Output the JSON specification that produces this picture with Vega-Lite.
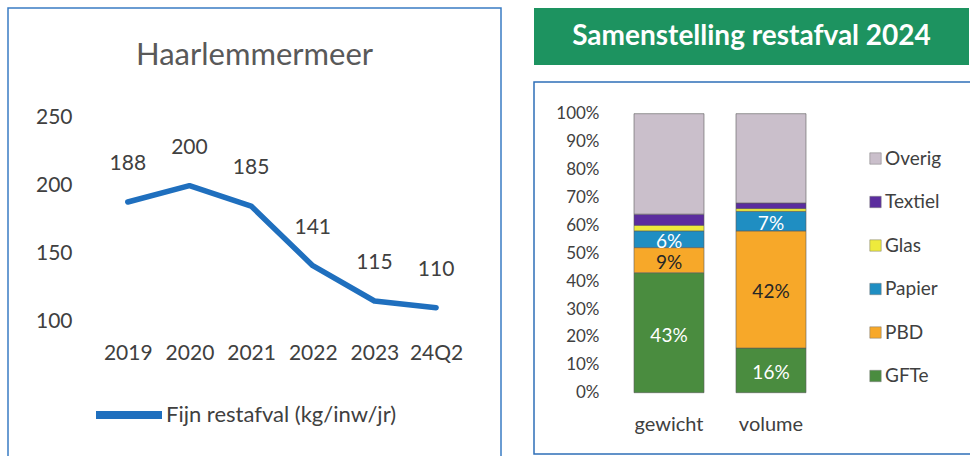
{
  "$schema": "https://vega.github.io/schema/vega-lite/v6.json",
  "padding": {"left": 7, "top": 7, "right": 0, "bottom": 0},
  "bounds": "flush",
  "spacing": 33,
  "resolve": {"scale": {"color": "independent"}, "legend": {"color": "independent"}},
  "config": {
    "font": "Lato",
    "view": {"stroke": null},
    "axis": {"domain": false, "ticks": false, "grid": false, "labelColor": "#404040", "labelFont": "Lato", "title": null, "labelOverlap": false},
    "legend": {"labelFont": "Lato", "labelColor": "#404040"}
  },
  "hconcat": [
    {
      "width": 493,
      "height": 449,
      "view": {"stroke": "#3a7cc4", "strokeWidth": 1.5},
      "title": {"text": "Haarlemmermeer", "frame": "group", "anchor": "middle", "offset": -88, "baseline": "alphabetic", "fontSize": 31, "fontWeight": "normal", "color": "#595959", "font": "Lato"},
      "data": {"values": [
        {"jaar": "2019", "kg": 188, "serie": "Fijn restafval (kg/inw/jr)"},
        {"jaar": "2020", "kg": 200, "serie": "Fijn restafval (kg/inw/jr)"},
        {"jaar": "2021", "kg": 185, "serie": "Fijn restafval (kg/inw/jr)"},
        {"jaar": "2022", "kg": 141, "serie": "Fijn restafval (kg/inw/jr)"},
        {"jaar": "2023", "kg": 115, "serie": "Fijn restafval (kg/inw/jr)"},
        {"jaar": "24Q2", "kg": 110, "serie": "Fijn restafval (kg/inw/jr)"}
      ]},
      "encoding": {
        "x": {"field": "jaar", "type": "ordinal", "sort": null,
              "scale": {"type": "point", "padding": 0, "range": [119.8, 428.1]},
              "axis": {"labelAngle": 0, "labelFontSize": 21, "labelBaseline": "middle", "labelPadding": 0, "offset": -104, "title": null}},
        "y": {"field": "kg", "type": "quantitative",
              "scale": {"domain": [0, 331], "nice": false, "zero": false},
              "axis": {"values": [100, 150, 200, 250], "labelFontSize": 21, "labelPadding": 0, "offset": -64, "title": null}}
      },
      "layer": [
        {
          "mark": {"type": "line", "strokeWidth": 5.5, "strokeCap": "round", "strokeJoin": "round"},
          "encoding": {
            "color": {"field": "serie", "type": "nominal", "scale": {"range": ["#1f6fbe"]},
                      "legend": {"title": null, "orient": "none", "legendX": 84, "legendY": 370, "symbolType": "stroke", "symbolSize": 4356, "symbolStrokeWidth": 8, "labelFontSize": 22, "labelOffset": 0, "padding": 0, "labelLimit": 400}}
          }
        },
        {
          "mark": {"type": "text", "dy": -38, "fontSize": 21, "color": "#404040", "baseline": "middle"},
          "encoding": {"text": {"field": "kg", "type": "quantitative"}}
        }
      ]
    },
    {
      "bounds": "flush",
      "spacing": 17,
      "vconcat": [
        {
          "width": 435,
          "height": 57,
          "view": {"fill": "#1d9360", "stroke": null},
          "data": {"values": [{"titel": "Samenstelling restafval 2024"}]},
          "mark": {"type": "text", "color": "#ffffff", "fontSize": 28, "fontWeight": "bold", "font": "Lato", "baseline": "middle"},
          "encoding": {"text": {"field": "titel", "type": "nominal"}}
        },
        {
          "width": 437,
          "height": 372,
          "view": {"stroke": "#2e6fb8", "strokeWidth": 1.5},
          "resolve": {"axis": {"y": "independent"}},
          "data": {"values": [
            {"maat": "gewicht", "fractie": "GFTe", "volgorde": 1, "aandeel": 0.43},
            {"maat": "gewicht", "fractie": "PBD", "volgorde": 2, "aandeel": 0.09},
            {"maat": "gewicht", "fractie": "Papier", "volgorde": 3, "aandeel": 0.06},
            {"maat": "gewicht", "fractie": "Glas", "volgorde": 4, "aandeel": 0.02},
            {"maat": "gewicht", "fractie": "Textiel", "volgorde": 5, "aandeel": 0.04},
            {"maat": "gewicht", "fractie": "Overig", "volgorde": 6, "aandeel": 0.36},
            {"maat": "volume", "fractie": "GFTe", "volgorde": 1, "aandeel": 0.16},
            {"maat": "volume", "fractie": "PBD", "volgorde": 2, "aandeel": 0.42},
            {"maat": "volume", "fractie": "Papier", "volgorde": 3, "aandeel": 0.07},
            {"maat": "volume", "fractie": "Glas", "volgorde": 4, "aandeel": 0.01},
            {"maat": "volume", "fractie": "Textiel", "volgorde": 5, "aandeel": 0.02},
            {"maat": "volume", "fractie": "Overig", "volgorde": 6, "aandeel": 0.32}
          ]},
          "encoding": {
            "x": {"field": "maat", "type": "nominal", "sort": null,
                  "scale": {"paddingInner": 0.3137, "paddingOuter": 0, "range": [100, 272]},
                  "axis": {"labelAngle": 0, "labelFontSize": 20, "labelBaseline": "middle", "labelPadding": 0, "offset": -30, "title": null}}
          },
          "layer": [
            {
              "mark": {"type": "bar", "stroke": "#5a5a5a", "strokeWidth": 0.6},
              "encoding": {
                "y": {"field": "aandeel", "type": "quantitative", "stack": "zero",
                      "scale": {"domain": [-0.2197, 1.1136], "nice": false, "zero": false},
                      "axis": {"values": [0, 0.1, 0.2, 0.3, 0.4, 0.5, 0.6, 0.7, 0.8, 0.9, 1], "format": ".0%", "labelFontSize": 17, "labelPadding": 0, "offset": -65, "labelOverlap": false, "title": null}},
                "order": {"field": "volgorde", "type": "quantitative", "sort": "ascending"},
                "color": {"field": "fractie", "type": "nominal",
                          "sort": ["GFTe", "PBD", "Papier", "Glas", "Textiel", "Overig"],
                          "scale": {"domain": ["GFTe", "PBD", "Papier", "Glas", "Textiel", "Overig"], "range": ["#4a8c3f", "#f7a829", "#1f8ec2", "#eeea3c", "#5b2d9e", "#cabfcb"]},
                          "legend": {"title": null, "orient": "none", "legendX": 332, "legendY": 141, "values": ["Overig", "Textiel", "Glas", "Papier", "PBD", "GFTe"], "symbolType": "square", "symbolSize": 130, "symbolStrokeColor": "#777777", "symbolStrokeWidth": 0.5, "labelFontSize": 19, "labelOffset": 0, "rowPadding": 23.5, "padding": 0}}
              }
            },
            {
              "transform": [{"filter": {"field": "fractie", "oneOf": ["GFTe", "PBD", "Papier"]}}],
              "mark": {"type": "text", "dy": 3, "fontSize": 19, "baseline": "middle"},
              "encoding": {
                "y": {"field": "aandeel", "type": "quantitative", "stack": "zero", "bandPosition": 0.5, "axis": null},
                "detail": {"field": "fractie", "type": "nominal"},
                "order": {"field": "volgorde", "type": "quantitative", "sort": "ascending"},
                "text": {"field": "aandeel", "type": "quantitative", "format": ".0%"},
                "color": {"condition": {"test": "datum.fractie === 'PBD'", "value": "#262626"}, "value": "#ffffff"}
              }
            }
          ]
        }
      ]
    }
  ]
}
